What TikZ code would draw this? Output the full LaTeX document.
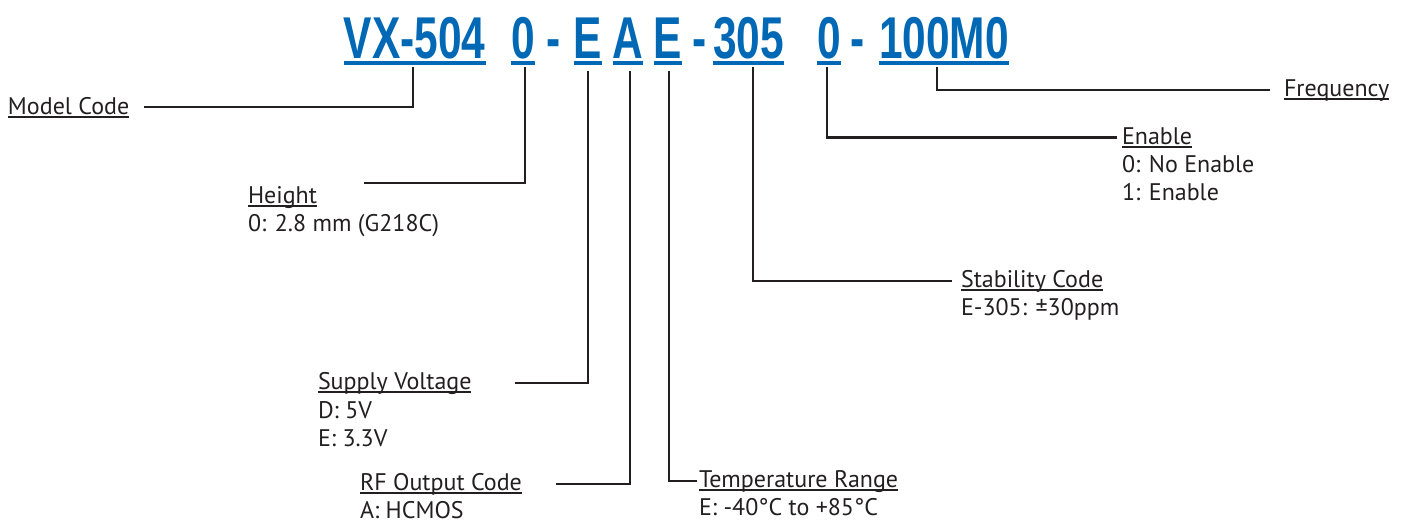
\documentclass[tikz,border=0pt]{standalone}
\usepackage{fontspec}
\setmainfont{PT Sans}
\newfontfamily\codefont[FakeStretch=0.72]{Liberation Sans}
\usepackage{tikz}
\definecolor{codeblue}{RGB}{0,104,180}
\definecolor{leadgray}{RGB}{35,31,32}
\newcommand\ultext[1]{\setbox0\hbox{#1}\rlap{\raisebox{-3.5pt}{\rule{\wd0}{1.3pt}}}\box0}

\begin{document}
\begin{tikzpicture}[x=1pt, y=-1pt,
  every node/.style={inner sep=0pt, outer sep=0pt},
  code/.style={font=\codefont\bfseries\fontsize{59}{59}\selectfont, text=codeblue, anchor=base},
  lbl/.style={font=\fontsize{24}{28.5}\selectfont, text=leadgray, anchor=base west, align=left},
  lead/.style={draw=leadgray, line width=2.4pt},
  uline/.style={draw=codeblue, line width=3.5pt}]
  \useasboundingbox (0,0) rectangle (1406,522);

  % part number
  \node [code] (vx) at (414.7,58) {VX-504};
  \node [code] (ht) at (523,58) {0};
  \node [code] (d1) at (553.6,58) {-};
  \node [code] (sv) at (587.7,58) {E};
  \node [code] (rf) at (628,58) {A};
  \node [code] (tr) at (668,58) {E};
  \node [code] (d2) at (700,58) {-};
  \node [code] (st) at (748.7,58) {305};
  \node [code] (en) at (829,58) {0};
  \node [code] (d3) at (857.6,58) {-};
  \node [code] (fq) at (944,58) {100M0};
  \foreach \n in {vx,ht,sv,rf,tr,st,en,fq}
    \draw [uline] ([yshift=-5pt]\n.base west) -- ([yshift=-5pt]\n.base east);

  % labels (multi-line nodes sit on their last baseline)
  \node [lbl] (lvx) at (8,114) {\ultext{Model Code}};
  \node [lbl] (lht) at (248,203) {\ultext{Height}};
  \node [lbl] (vht) at (248,231) {0: 2.8 mm (G218C)};
  \node [lbl] (lsv) at (318,389) {\ultext{Supply Voltage}};
  \node [lbl] (vsv) at (318,446.5) {D: 5V\\E: 3.3V};
  \node [lbl] (lrf) at (360,490) {\ultext{RF Output Code}};
  \node [lbl] (vrf) at (360,518) {A: HCMOS};
  \node [lbl] (ltr) at (699,487) {\ultext{Temperature Range}};
  \node [lbl] (vtr) at (699,515) {E: -40°C to +85°C};
  \node [lbl] (lst) at (961,287) {\ultext{Stability Code}};
  \node [lbl] (vst) at (961,315) {E-305: ±30ppm};
  \node [lbl] (len) at (1122,144) {\ultext{Enable}};
  \node [lbl] (ven) at (1122,200.5) {0: No Enable\\1: Enable};
  \node [lbl] (lfq) at (1284,96) {\ultext{Frequency}};
  \coordinate (htend) at (364,183);

  % leads
  \draw [lead] ([shift={(-1.7pt,-9pt)}]vx.base) |- ([xshift=15pt]lvx.east);
  \draw [lead] ([shift={(2pt,-9pt)}]ht.base) |- (htend);
  \draw [lead] ([shift={(0pt,-13pt)}]sv.base) |- ([xshift=44pt]lsv.east);
  \draw [lead] ([shift={(2pt,-13pt)}]rf.base) |- ([xshift=34pt]lrf.east);
  \draw [lead] ([shift={(1pt,-13pt)}]tr.base) |- ([xshift=-2pt]ltr.west);
  \draw [lead] ([shift={(4pt,-9pt)}]st.base) |- ([xshift=-9pt]lst.west);
  \draw [lead] ([shift={(-2pt,-9pt)}]en.base) |- ([xshift=-5pt]len.west);
  \draw [lead] ([shift={(-7pt,-9pt)}]fq.base) |- ([xshift=-14pt]lfq.west);
\end{tikzpicture}
\end{document}
